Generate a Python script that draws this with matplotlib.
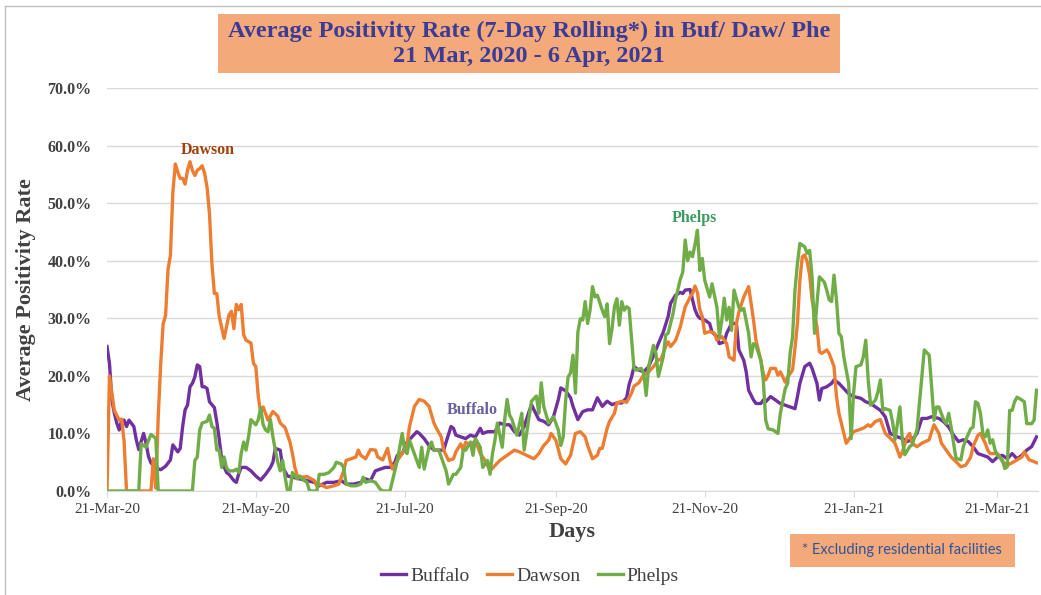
import pandas as pd
import matplotlib
matplotlib.use("Agg")
import matplotlib.pyplot as plt
import matplotlib.dates as mdates
from matplotlib.patches import Rectangle
from matplotlib.lines import Line2D
from matplotlib.ticker import FuncFormatter

# Series: days since 21-Mar-2020 and 7-day rolling positivity (%)
start = pd.Timestamp("2020-03-21")

buffalo_days = [0, 1, 2, 3, 4, 5, 6, 7, 8, 9, 11, 12, 13, 15, 16, 17, 18, 20, 22, 24, 26, 27, 29, 30,
                31, 32, 33, 34, 35, 36, 37, 38, 39, 40, 41, 42, 44, 45, 46, 47, 48, 49, 50, 52, 53, 54,
                55, 57, 59, 61, 63, 65, 67, 68, 69, 71, 72, 74, 76, 79, 82, 85, 87, 90, 93, 96, 98, 101,
                104, 106, 108, 110, 112, 114, 116, 118, 119, 121, 123, 125, 127, 128, 130, 132, 134, 136,
                138, 139, 141, 142, 143, 145, 147, 149, 151, 153, 154, 156, 159, 161, 163, 165, 167, 169,
                171, 173, 174, 175, 177, 179, 181, 183, 185, 186, 188, 190, 191, 193, 195, 197, 199, 201,
                203, 205, 207, 209, 211, 213, 214, 215, 216, 218, 220, 222, 224, 226, 228, 230, 231, 233,
                235, 236, 237, 239, 240, 241, 242, 243, 245, 247, 248, 250, 251, 253, 254, 256, 258, 259,
                261, 262, 263, 265, 266, 268, 269, 270, 272, 274, 276, 278, 280, 282, 283, 284, 286, 288,
                289, 291, 292, 293, 295, 297, 298, 300, 302, 304, 306, 309, 311, 313, 315, 317, 319, 321,
                324, 326, 328, 330, 332, 334, 336, 338, 341, 343, 345, 347, 349, 351, 353, 355, 357, 359,
                361, 363, 365, 367, 369, 371, 373, 375, 377, 379, 381]
buffalo_vals = [25.1, 22.2, 15.8, 13.5, 11.8, 10.6, 12.3, 12.3, 11.2, 12.3, 11.2, 8.9, 7.2, 10.0, 8.3,
                6.0, 4.9, 4.0, 3.7, 4.3, 5.4, 8.0, 6.8, 7.4, 11.2, 14.1, 14.9, 18.1, 18.7, 19.8, 21.9,
                21.6, 18.1, 18.1, 17.8, 15.5, 14.5, 12.0, 9.0, 5.5, 4.2, 3.2, 2.9, 1.8, 1.5, 3.0, 4.1,
                4.1, 3.5, 2.6, 1.9, 2.9, 4.1, 5.0, 7.4, 7.1, 4.1, 2.6, 2.4, 2.1, 1.8, 1.5, 0.9, 1.5, 1.5,
                1.8, 1.2, 1.2, 1.5, 2.1, 1.8, 3.5, 3.8, 4.1, 4.1, 5.0, 6.2, 6.5, 8.5, 9.4, 10.3, 10.0,
                9.1, 7.9, 7.1, 7.1, 7.1, 8.5, 11.2, 10.9, 9.7, 9.4, 9.1, 9.7, 9.4, 10.9, 10.0, 10.3, 10.3,
                11.8, 11.5, 11.5, 10.3, 9.7, 11.2, 13.8, 15.0, 14.1, 12.4, 12.1, 11.5, 12.9, 15.9, 17.9,
                17.4, 16.2, 14.7, 12.4, 13.8, 14.1, 14.1, 16.2, 14.7, 15.6, 15.0, 15.3, 15.3, 16.2, 18.5,
                19.8, 21.6, 21.0, 20.7, 21.6, 23.5, 25.6, 27.6, 30.3, 32.6, 34.0, 34.5, 34.3, 34.9, 35.0,
                33.2, 31.5, 30.5, 30.0, 29.7, 29.1, 27.6, 26.8, 25.6, 25.9, 27.4, 29.1, 29.1, 24.5, 22.7,
                20.7, 17.5, 15.8, 15.2, 15.2, 15.8, 15.5, 16.4, 15.8, 15.2, 14.9, 14.6, 14.3, 16.4, 18.7,
                21.6, 22.2, 21.3, 18.7, 15.8, 17.8, 18.1, 18.7, 19.3, 18.7, 17.8, 16.9, 16.4, 16.1, 15.5,
                15.2, 14.6, 14.0, 12.9, 10.0, 9.4, 9.1, 8.6, 8.9, 10.0, 12.6, 12.6, 12.9, 12.6, 12.0,
                11.1, 9.7, 8.6, 8.9, 8.6, 7.7, 6.5, 6.2, 5.9, 5.1, 5.9, 6.2, 5.6, 6.5, 5.6, 6.2, 7.1, 7.7,
                9.4]

dawson_days = [0, 1, 3, 5, 6, 7, 8, 18, 19, 20, 21, 22, 23, 24, 25, 26, 27, 28, 29, 30, 31, 32, 33, 34,
               35, 36, 37, 38, 39, 40, 41, 42, 43, 44, 45, 46, 48, 50, 51, 52, 53, 54, 55, 56, 57, 59,
               60, 61, 62, 63, 64, 66, 68, 70, 71, 73, 75, 76, 77, 78, 80, 82, 85, 86, 87, 90, 93, 95,
               97, 98, 100, 102, 103, 104, 106, 108, 110, 111, 113, 115, 116, 117, 119, 121, 123, 124,
               126, 128, 130, 132, 134, 135, 137, 138, 140, 142, 143, 145, 146, 147, 149, 151, 153, 155,
               157, 159, 161, 164, 167, 169, 172, 175, 177, 179, 181, 182, 184, 186, 188, 190, 192, 194,
               196, 197, 199, 201, 202, 203, 205, 206, 208, 209, 211, 213, 215, 216, 218, 220, 222, 224,
               226, 227, 229, 230, 231, 233, 235, 236, 237, 238, 239, 240, 241, 242, 243, 244, 245, 247,
               249, 250, 252, 254, 255, 257, 258, 259, 261, 263, 265, 266, 268, 269, 270, 271, 272, 274,
               275, 276, 278, 279, 281, 282, 283, 284, 285, 286, 287, 288, 289, 291, 292, 293, 295, 296,
               298, 299, 300, 302, 303, 304, 306, 308, 310, 312, 313, 315, 317, 319, 321, 323, 325, 326,
               328, 329, 330, 332, 334, 337, 338, 339, 341, 342, 344, 346, 348, 350, 352, 354, 355, 357,
               358, 360, 361, 362, 365, 366, 367, 369, 371, 373, 375, 376, 378, 380, 381]
dawson_vals = [0.0, 20.0, 14.0, 12.3, 12.5, 8.6, 0.0, 0.0, 5.6, 0.5, 13.0, 22.0, 29.0, 30.5, 38.4, 41.0,
               52.0, 56.8, 55.4, 54.3, 54.3, 53.3, 55.7, 57.2, 55.7, 54.8, 55.7, 56.0, 56.5, 55.2, 52.8,
               48.2, 39.5, 34.3, 34.3, 30.3, 26.5, 30.6, 31.2, 28.2, 32.4, 31.5, 32.4, 27.1, 26.2, 25.7,
               22.2, 21.6, 16.4, 13.5, 14.6, 12.3, 13.8, 13.0, 11.8, 11.0, 8.5, 6.5, 4.1, 2.6, 2.4, 2.5,
               1.8, 0.9, 1.2, 0.6, 0.9, 1.2, 3.5, 5.3, 5.6, 5.9, 7.1, 6.2, 5.6, 7.2, 7.1, 5.9, 5.4, 7.4,
               5.3, 3.8, 5.3, 6.5, 8.2, 11.2, 14.7, 15.9, 15.6, 14.7, 11.8, 10.9, 9.4, 7.1, 5.3, 5.6,
               6.8, 8.2, 7.1, 8.5, 7.9, 8.8, 6.5, 5.3, 3.5, 4.4, 5.3, 6.2, 7.1, 6.8, 6.2, 5.6, 6.5, 7.9,
               8.8, 10.0, 8.8, 5.6, 4.7, 6.2, 10.0, 10.3, 9.4, 7.9, 5.6, 6.2, 7.4, 7.4, 10.9, 12.1, 13.5,
               15.3, 15.6, 15.4, 17.0, 18.2, 18.8, 20.2, 20.7, 21.6, 22.8, 22.8, 25.1, 25.9, 25.1, 26.1,
               28.5, 30.3, 32.0, 32.8, 33.7, 34.3, 35.6, 34.5, 31.5, 30.3, 27.4, 27.7, 27.4, 26.2, 26.8,
               25.6, 23.3, 22.7, 29.1, 31.1, 33.7, 35.5, 29.7, 26.2, 22.7, 20.4, 19.3, 20.1, 21.3, 21.3,
               20.1, 20.7, 18.9, 19.8, 21.0, 24.8, 29.1, 36.6, 40.7, 41.0, 39.8, 37.5, 33.2, 28.5, 24.2,
               23.9, 24.5, 23.9, 21.6, 16.4, 13.5, 10.0, 8.3, 8.9, 10.3, 10.6, 10.9, 11.5, 11.2, 12.1,
               12.4, 10.0, 9.2, 8.3, 5.9, 6.8, 9.4, 10.0, 8.3, 7.7, 8.3, 8.9, 10.3, 11.5, 10.0, 8.3, 7.1,
               5.9, 5.1, 4.2, 4.5, 5.9, 7.7, 9.7, 10.0, 8.3, 7.1, 6.5, 6.5, 5.9, 5.1, 4.5, 4.9, 5.4, 5.9,
               6.8, 5.4, 5.1, 4.9]

phelps_days = [0, 13, 14, 15, 16, 17, 18, 19, 20, 21, 35, 36, 37, 38, 39, 41, 42, 43, 44, 45, 46, 47,
               48, 49, 50, 52, 53, 54, 55, 56, 57, 58, 59, 61, 62, 63, 64, 65, 66, 67, 68, 69, 70, 71,
               72, 73, 74, 75, 76, 78, 79, 80, 82, 83, 86, 87, 89, 91, 93, 94, 96, 97, 98, 100, 102,
               104, 105, 106, 108, 110, 112, 113, 116, 117, 119, 121, 122, 123, 124, 125, 127, 128, 129,
               130, 132, 133, 134, 136, 138, 139, 140, 142, 143, 145, 146, 147, 149, 150, 151, 153, 154,
               156, 157, 158, 159, 160, 162, 163, 164, 165, 166, 168, 169, 170, 171, 173, 174, 176, 177,
               178, 179, 181, 183, 185, 186, 187, 188, 189, 190, 191, 192, 193, 194, 195, 196, 197, 198,
               199, 200, 201, 203, 204, 205, 206, 207, 208, 209, 210, 211, 212, 213, 214, 216, 217, 219,
               220, 221, 222, 224, 225, 226, 228, 229, 230, 232, 233, 235, 236, 237, 238, 239, 240, 241,
               242, 243, 244, 245, 247, 248, 250, 251, 252, 253, 254, 255, 256, 257, 259, 260, 261, 263,
               264, 265, 266, 268, 269, 270, 271, 273, 275, 276, 278, 279, 280, 281, 282, 283, 284, 286,
               287, 288, 289, 290, 291, 292, 294, 295, 296, 297, 298, 299, 300, 301, 302, 304, 305, 306,
               307, 309, 310, 311, 312, 313, 315, 316, 317, 318, 319, 321, 322, 323, 325, 326, 327, 329,
               330, 332, 333, 334, 335, 337, 338, 339, 340, 341, 343, 344, 345, 346, 347, 348, 350, 351,
               352, 354, 355, 356, 357, 358, 359, 360, 361, 362, 363, 364, 365, 367, 368, 369, 370, 371,
               372, 373, 375, 376, 377, 379, 380, 381]
phelps_vals = [0.0, 0.0, 8.2, 7.9, 7.6, 8.8, 9.8, 9.5, 9.1, 0.0, 0.0, 5.3, 5.9, 10.6, 11.8, 12.1, 13.2,
               11.2, 10.9, 7.1, 7.1, 4.1, 5.9, 4.0, 3.5, 3.5, 3.8, 3.2, 6.5, 8.5, 7.1, 9.4, 12.4, 11.5,
               12.4, 14.4, 11.5, 10.6, 10.3, 12.4, 9.4, 7.1, 5.0, 3.5, 5.3, 2.4, 0.0, 0.0, 3.2, 2.1, 2.6,
               2.1, 1.5, 0.0, 0.0, 2.9, 2.9, 3.2, 4.1, 5.0, 4.7, 4.1, 1.2, 0.9, 0.9, 1.2, 2.4, 1.5, 1.8,
               1.5, 0.3, 0.0, 0.0, 1.8, 5.3, 10.0, 7.1, 6.5, 8.8, 7.6, 5.3, 4.1, 7.6, 3.8, 7.6, 8.5, 7.1,
               7.1, 4.7, 3.5, 1.2, 2.9, 2.9, 4.1, 7.1, 7.1, 8.5, 6.2, 9.1, 7.6, 4.1, 5.3, 2.9, 6.5, 8.8,
               11.8, 7.6, 12.4, 15.9, 13.2, 12.4, 9.7, 11.5, 13.5, 7.1, 12.9, 15.6, 16.5, 13.5, 18.8,
               14.7, 11.8, 12.9, 10.6, 7.9, 9.4, 15.8, 19.8, 20.5, 23.6, 17.0, 27.6, 29.9, 29.7, 32.9,
               29.1, 31.4, 35.5, 33.7, 34.0, 31.4, 30.3, 32.5, 25.6, 28.2, 32.0, 33.4, 28.8, 32.9, 31.4,
               32.0, 31.7, 21.3, 21.0, 21.3, 20.4, 16.6, 21.6, 25.3, 23.9, 19.9, 23.3, 27.1, 27.4, 30.8,
               33.2, 36.8, 38.0, 43.6, 40.0, 41.5, 40.7, 42.8, 45.3, 38.3, 40.4, 36.6, 33.7, 36.0, 31.9,
               26.8, 29.7, 33.5, 29.7, 31.9, 27.9, 34.9, 31.9, 31.4, 31.7, 27.4, 23.3, 25.6, 25.3, 22.7,
               19.3, 12.3, 10.8, 10.6, 10.0, 13.5, 17.8, 18.7, 23.9, 26.8, 34.9, 39.5, 43.0, 42.4, 41.3,
               41.8, 37.2, 27.4, 32.6, 37.2, 36.3, 34.9, 33.2, 32.9, 37.5, 33.2, 27.4, 26.8, 23.3, 18.7,
               9.1, 16.9, 21.6, 21.9, 23.3, 26.2, 19.3, 14.9, 15.8, 17.2, 19.3, 14.0, 14.3, 14.0, 12.0,
               8.9, 14.6, 8.9, 6.3, 7.7, 8.0, 10.6, 15.2, 19.8, 24.5, 23.6, 18.1, 12.3, 14.6, 14.6, 12.3,
               11.7, 13.5, 11.1, 8.3, 5.7, 5.4, 7.7, 8.9, 10.8, 11.1, 15.5, 15.2, 13.5, 10.0, 9.4, 10.6,
               8.3, 8.9, 7.1, 6.2, 5.4, 3.9, 4.2, 14.0, 14.0, 15.5, 16.3, 15.8, 15.5, 11.7, 11.7, 12.3,
               17.5]

tick_dates = ["2020-03-21", "2020-05-21", "2020-07-21", "2020-09-21",
              "2020-11-21", "2021-01-21", "2021-03-21"]

series = [("Buffalo", buffalo_days, buffalo_vals, "#7030A0"),
          ("Dawson", dawson_days, dawson_vals, "#ED7D31"),
          ("Phelps", phelps_days, phelps_vals, "#70AD47")]

serif = "Liberation Serif"
grey = "#404040"
salmon = "#F4A97A"

fig = plt.figure(figsize=(10.41, 5.95), dpi=100)
ax = fig.add_axes([0.1028, 0.1748, 0.8943, 0.6773])

for name, days, vals, color in series:
    x = start + pd.to_timedelta(days, unit="D")
    ax.plot(x, vals, color=color, lw=2.4, label=name, solid_joinstyle="round")

ax.set_ylim(0, 70)
ax.set_xlim(start, start + pd.Timedelta(days=381.6))
ax.set_yticks(range(0, 71, 10))
ax.yaxis.set_major_formatter(FuncFormatter(lambda v, p: f"{v:.1f}%"))
ax.set_xticks(pd.to_datetime(tick_dates))
ax.xaxis.set_major_formatter(mdates.DateFormatter("%d-%b-%y"))

ax.grid(axis="y", color="#D9D9D9", lw=1)
ax.set_axisbelow(True)
for s in ["top", "right", "left"]:
    ax.spines[s].set_visible(False)
ax.spines["bottom"].set_color("#D9D9D9")
ax.tick_params(axis="y", length=0, pad=11)
ax.tick_params(axis="x", length=4, color="#D9D9D9", pad=5)
for lab in ax.get_yticklabels():
    lab.set_fontfamily(serif)
    lab.set_fontweight("bold")
    lab.set_fontsize(11.5)
    lab.set_color(grey)
for lab in ax.get_xticklabels():
    lab.set_fontfamily(serif)
    lab.set_fontsize(11)
    lab.set_color(grey)

ax.set_ylabel("Average Positivity Rate", family=serif, fontsize=16,
              fontweight="bold", color=grey, labelpad=8)
ax.set_xlabel("Days", family=serif, fontsize=16, fontweight="bold",
              color=grey, labelpad=4)

# series labels
ax.text(start + pd.Timedelta(days=41.4), 59.3, "Dawson", family=serif, fontsize=11.5,
        fontweight="bold", color="#A0420E", ha="center", va="center")
ax.text(start + pd.Timedelta(days=240.6), 47.4, "Phelps", family=serif, fontsize=11.5,
        fontweight="bold", color="#3D9A5E", ha="center", va="center")
ax.text(start + pd.Timedelta(days=149.6), 14.1, "Buffalo", family=serif, fontsize=11.5,
        fontweight="bold", color="#6B5FA0", ha="center", va="center")

# title box
fig.patches.append(Rectangle((0.2094, 0.8773), 0.5975, 0.0992, transform=fig.transFigure,
                             facecolor=salmon, edgecolor="none", zorder=0))
fig.text(0.5082, 0.9255, "Average Positivity Rate (7-Day Rolling*) in Buf/ Daw/ Phe\n21 Mar, 2020 - 6 Apr, 2021",
         family=serif, fontsize=17.5, fontweight="bold", color="#3C3C96",
         ha="center", va="center", linespacing=1.25)

# footnote box
fig.patches.append(Rectangle((0.7589, 0.0471), 0.2161, 0.0555, transform=fig.transFigure,
                             facecolor=salmon, edgecolor="none", zorder=0))
fig.text(0.8665, 0.0756, "* Excluding residential facilities", family="Lato",
         fontsize=10.5, color="#2F5597", ha="center", va="center")

fig.legend(loc="center", bbox_to_anchor=(0.509, 0.032), ncol=3, frameon=False,
           prop={"family": serif, "size": 14}, labelcolor=grey,
           handlelength=1.3, handletextpad=0.2, columnspacing=0.9)

# chart border
fig.add_artist(Line2D([0.005, 1.0], [0.99, 0.99], transform=fig.transFigure, color="#BFBFBF", lw=1))
fig.add_artist(Line2D([0.005, 0.005], [0.0, 0.99], transform=fig.transFigure, color="#BFBFBF", lw=1))

fig.savefig("out.png", dpi=100, facecolor="white")
plt.close(fig)
